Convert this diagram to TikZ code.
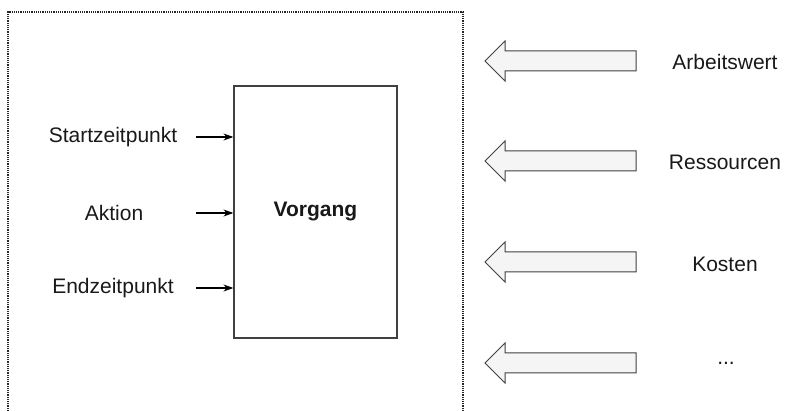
\documentclass[tikz,border=0pt]{standalone}
\usepackage{fontspec}
\setmainfont{Liberation Sans}
\usetikzlibrary{arrows.meta,shadows}
\begin{document}
\begin{tikzpicture}[x=1pt,y=-1pt,
  lbl/.style={font=\fontsize{21}{25}\selectfont, text=black!90, inner sep=0pt},
  inarrow/.style={line width=1.2pt, -{Stealth[length=10pt,width=7pt]}},
  bigarrow/.style={draw=black!75, line width=1pt, fill=black!4, line join=miter},
  frame/.style={draw=black!85, line width=1.1pt, dash pattern=on 1.2pt off 1pt}]
\useasboundingbox (0,0) rectangle (785,411);
% dotted frame (open at bottom)
\draw[frame] (8,411) -- (8,12) -- (463,12) -- (463,411);
% Vorgang box
\node[draw=black!75, line width=1.2pt, fill=white, minimum width=163pt, minimum height=252pt,
      inner sep=0pt, drop shadow={shadow xshift=1pt, shadow yshift=-1.2pt, fill=black!20, opacity=1},
      font=\fontsize{21}{25}\selectfont\bfseries, text=black!90] (box) at (315.5,212) {Vorgang};
% left labels
\node[lbl] (start) at (113,137) {Startzeitpunkt};
\node[lbl] (akt) at (114,213) {Aktion};
\node[lbl] (end) at (113,288) {Endzeitpunkt};
\coordinate (cs) at (196,137);
\coordinate (ca) at (196,213);
\coordinate (ce) at (196,288);
\draw[inarrow] (cs) -- (cs -| box.west);
\draw[inarrow] (ca) -- (ca -| box.west);
\draw[inarrow] (ce) -- (ce -| box.west);
% big arrows
\foreach \yy in {61,161,262,363}{
  \draw[bigarrow] (485,\yy) -- (505,\yy-20) -- (505,\yy-10) -- (636,\yy-10)
    -- (636,\yy+10) -- (505,\yy+10) -- (505,\yy+20) -- cycle;
}
% right labels
\node[lbl] (arb) at (725,62) {Arbeitswert};
\node[lbl] (res) at (725,162) {Ressourcen};
\node[lbl] (kos) at (725,264) {Kosten};
\node[lbl] (dots) at (726,363) {...};
\end{tikzpicture}
\end{document}
